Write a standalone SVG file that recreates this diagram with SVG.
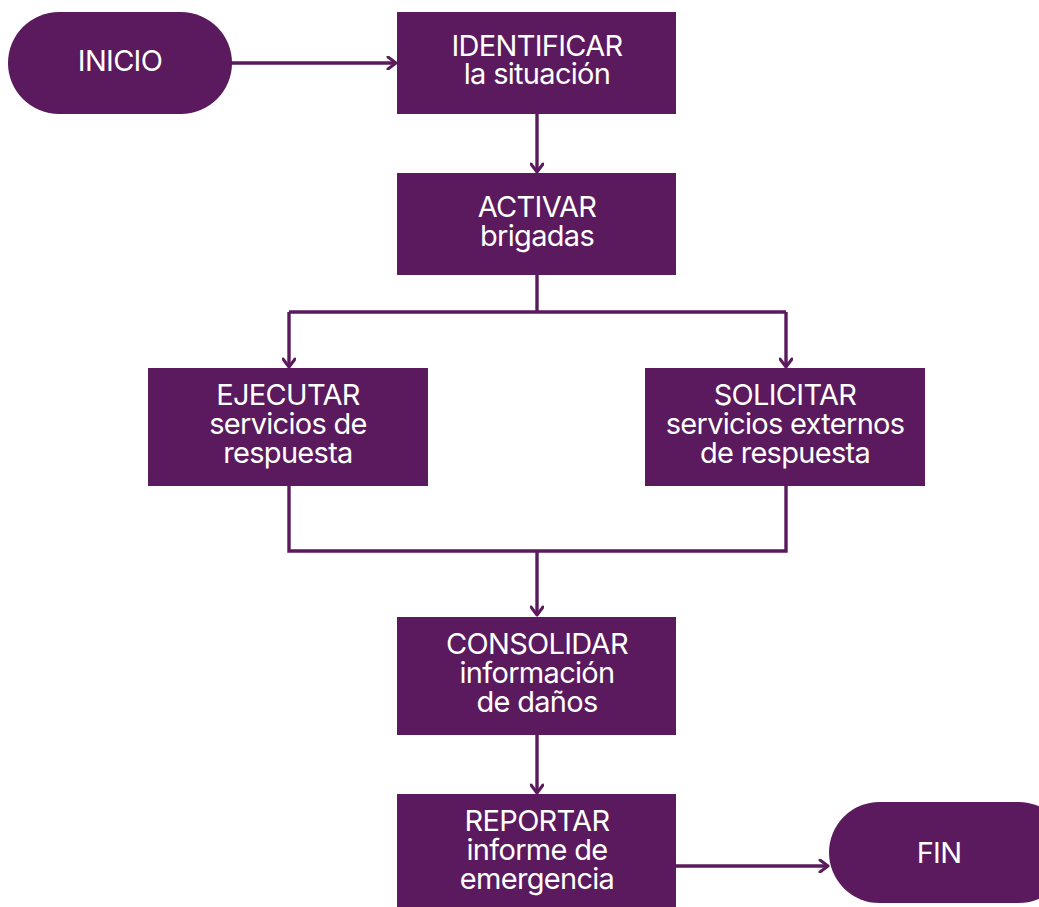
<svg xmlns="http://www.w3.org/2000/svg" width="1039" height="907" viewBox="0 0 1039 907">
  <style>
    .shape { fill: #5a1a5d; }
    .label { fill: #ffffff; font-family: Inter, "Liberation Sans", sans-serif; font-size: 29px; letter-spacing: -0.7px; text-anchor: middle; }
    .link { fill: none; stroke: #5a1a5d; stroke-width: 3.4; }
  </style>
  <defs>
    <marker id="chevron" viewBox="0 0 14 14" refX="12" refY="7" markerWidth="14" markerHeight="14" markerUnits="userSpaceOnUse" orient="auto">
      <path d="M4,1 L12,7 L4,13" fill="none" stroke="#5a1a5d" stroke-width="3" stroke-linecap="round" stroke-linejoin="round"/>
    </marker>
  </defs>

  <!-- connectors -->
  <g id="connectors">
    <path class="link" d="M231,63 H396" marker-end="url(#chevron)"/>
    <path class="link" d="M537,114 V172" marker-end="url(#chevron)"/>
    <path class="link" d="M537,275 V312"/>
    <path class="link" d="M289,312 H786"/>
    <path class="link" d="M289,312 V367" marker-end="url(#chevron)"/>
    <path class="link" d="M786,312 V367" marker-end="url(#chevron)"/>
    <path class="link" d="M289,486 V551 H786 V486"/>
    <path class="link" d="M537,551 V615" marker-end="url(#chevron)"/>
    <path class="link" d="M537,735 V793" marker-end="url(#chevron)"/>
    <path class="link" d="M676,866 H828" marker-end="url(#chevron)"/>
  </g>

  <g id="inicio">
    <rect class="shape" x="8" y="12" width="224" height="102" rx="51"/>
    <text class="label" x="120" y="71">INICIO</text>
  </g>

  <g id="identificar">
    <rect class="shape" x="397" y="12" width="279" height="102"/>
    <text class="label" x="537" y="56">IDENTIFICAR</text>
    <text class="label" x="537" y="84">la situación</text>
  </g>

  <g id="activar">
    <rect class="shape" x="397" y="173" width="279" height="102"/>
    <text class="label" x="537" y="217">ACTIVAR</text>
    <text class="label" x="537" y="246">brigadas</text>
  </g>

  <g id="ejecutar">
    <rect class="shape" x="148" y="368" width="280" height="118"/>
    <text class="label" x="288" y="405">EJECUTAR</text>
    <text class="label" x="288" y="434">servicios de</text>
    <text class="label" x="288" y="463">respuesta</text>
  </g>

  <g id="solicitar">
    <rect class="shape" x="645" y="368" width="280" height="118"/>
    <text class="label" x="785" y="405">SOLICITAR</text>
    <text class="label" x="785" y="434">servicios externos</text>
    <text class="label" x="785" y="463">de respuesta</text>
  </g>

  <g id="consolidar">
    <rect class="shape" x="397" y="617" width="279" height="118"/>
    <text class="label" x="537" y="654">CONSOLIDAR</text>
    <text class="label" x="537" y="683">información</text>
    <text class="label" x="537" y="712">de daños</text>
  </g>

  <g id="reportar">
    <rect class="shape" x="397" y="794" width="279" height="113"/>
    <text class="label" x="537" y="831">REPORTAR</text>
    <text class="label" x="537" y="860">informe de</text>
    <text class="label" x="537" y="889">emergencia</text>
  </g>

  <g id="fin">
    <rect class="shape" x="829" y="802" width="240" height="101" rx="50.5"/>
    <text class="label" x="939" y="863">FIN</text>
  </g>
</svg>
